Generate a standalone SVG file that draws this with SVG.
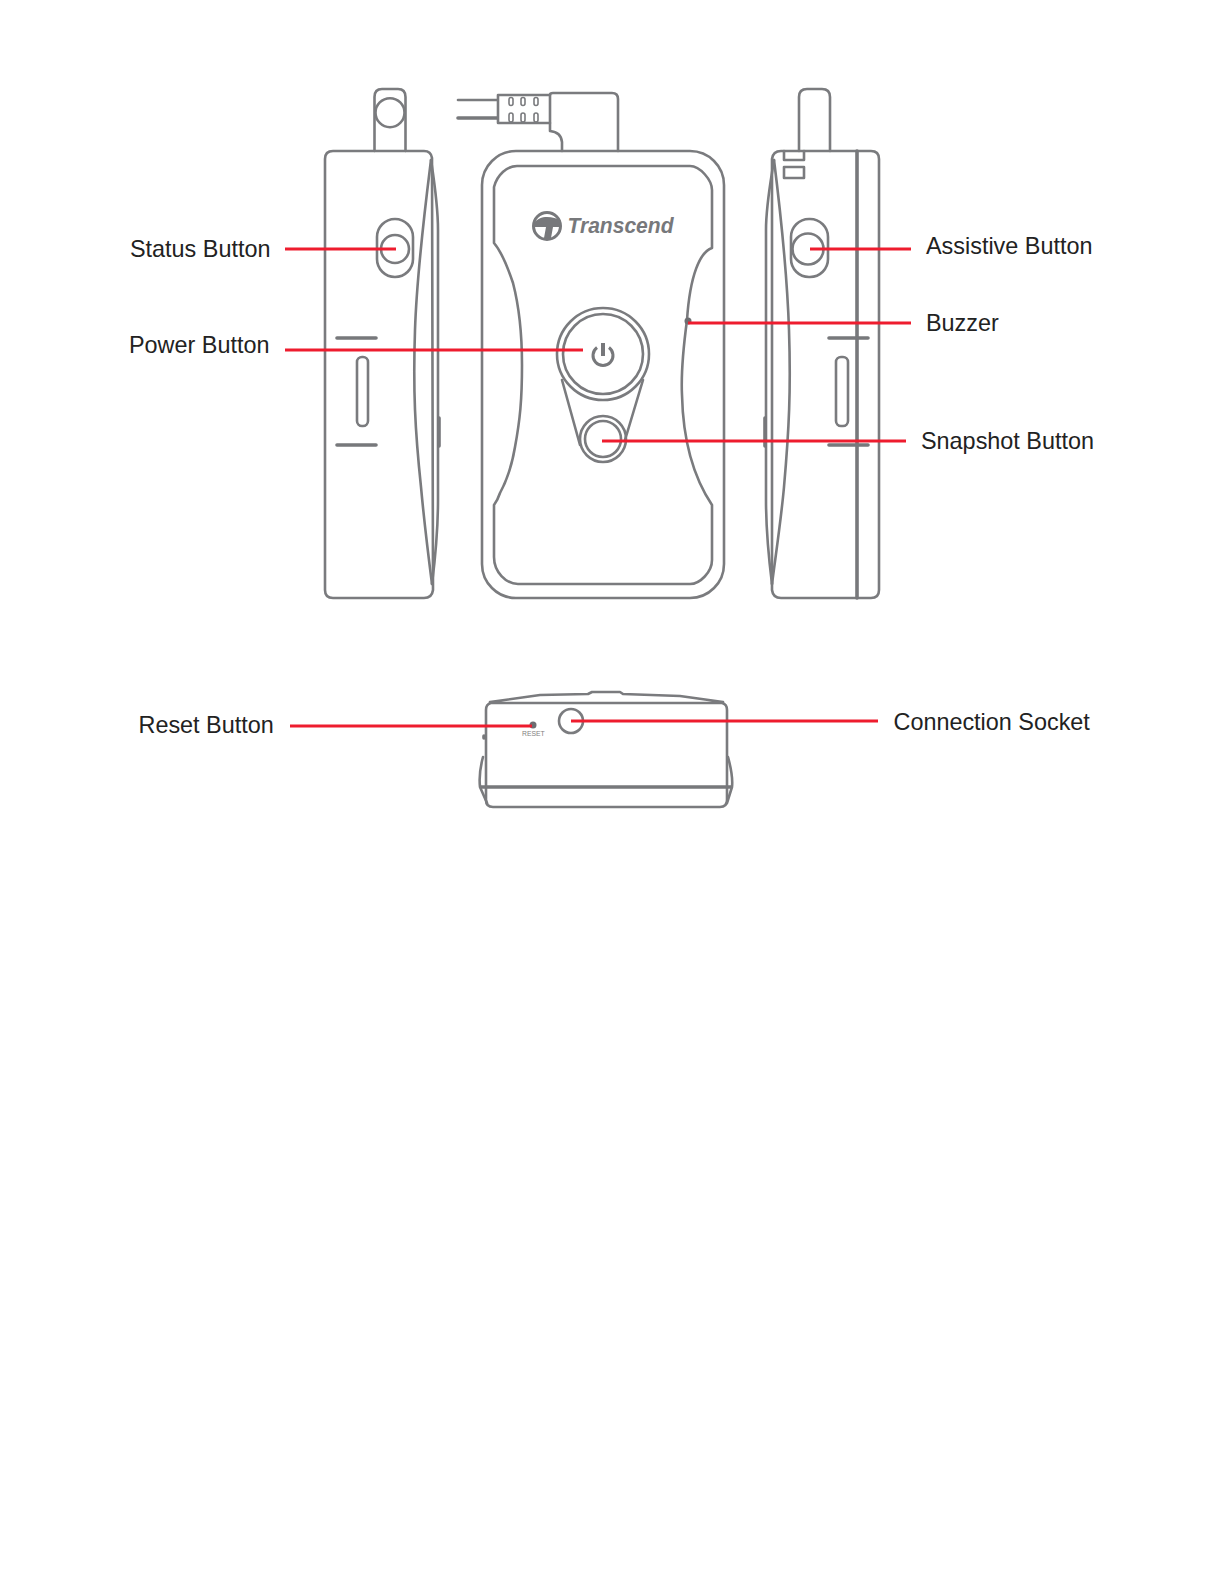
<svg xmlns="http://www.w3.org/2000/svg" width="1225" height="1585" viewBox="0 0 1225 1585">
<style>
.o{fill:none;stroke:#7a7b7e;stroke-width:2.6;stroke-linejoin:round;stroke-linecap:round}
.k{fill:none;stroke:#77787b;stroke-width:3.6;stroke-linecap:round}
.r{fill:none;stroke:#ee1c2e;stroke-width:2.8}
.l{font-family:"Liberation Sans",Arial,sans-serif;font-size:23.4px;fill:#222}
.s{fill:none;stroke:#7a7b7e;stroke-width:1.6}
</style>
<rect width="1225" height="1585" fill="#fff"/>
<g id="left-view">
<path class="o" d="M374.500 151V97Q374.500 89 382 89H398Q405.500 89 405.500 97V151"/>
<circle class="o" cx="390" cy="112.700" r="14.500"/>
<path class="o" d="M333 151H424Q431 151 432 158L433 590Q432 598 424 598H333Q325 598 325 590V159Q325 151 333 151Z"/>
<path class="o" d="M431 160C426 200 417 270 415 330C413 390 415 430 421 487C424 520 428 553 432 584"/>
<path class="o" d="M431 160C434 180 438 205 438 230V500C438 530 435 560 432 584"/>
<rect class="o" x="377" y="219" width="36" height="58" rx="18"/>
<circle class="o" cx="395" cy="249" r="14"/>
<rect class="o" x="357" y="357" width="11" height="69" rx="5"/>
<path class="k" d="M337 338H376M337 445H376"/>
<path class="k" d="M439 418V446"/>
</g>
<g id="connector">
<path class="o" d="M458 100H497"/>
<path class="k" d="M458 118H497"/>
<rect class="o" x="498" y="95" width="52" height="28"/>
<rect class="s" x="509" y="97.500" width="4" height="8" rx="2"/>
<rect class="s" x="521" y="97.500" width="4" height="8" rx="2"/>
<rect class="s" x="534" y="97.500" width="4" height="8" rx="2"/>
<rect class="s" x="509" y="113" width="4" height="9" rx="2"/>
<rect class="s" x="521" y="113" width="4" height="9" rx="2"/>
<rect class="s" x="534" y="113" width="4" height="9" rx="2"/>
<path class="o" d="M550 95Q550 93 553 93H612Q618 93 618 99V151M550 123V131Q561 132 562 142V151"/>
</g>
<g id="front-view">
<rect class="o" x="482" y="151" width="242" height="447" rx="34"/>
<path class="o" d="M517 166H690C700 166 712 180 712 190V248C700 252 690 275 687 320C683 350 681 375 682 395C683 440 692 475 712 505V560C712 572 700 584 690 584H518C506 584 494 572 494 557V505C497 501 498 499 500 493C507 480 512 465 515 447C520 420 522 400 522 365C522 340 520 310 513 283C507 265 500 250 494 243V187C497 175 507 166 517 166Z"/>
<circle class="o" cx="603" cy="354" r="46"/>
<circle class="o" cx="603" cy="354" r="40"/>
<path class="o" d="M562 380 580 445M643 380 625 440"/>
<circle class="o" cx="603" cy="439" r="23"/>
<circle class="o" cx="603" cy="439" r="18"/>
<path d="M597 347.500a10 10 0 1 0 12 0" fill="none" stroke="#77787b" stroke-width="3"/>
<path d="M603 343V356" fill="none" stroke="#77787b" stroke-width="4"/>
<circle cx="688" cy="321" r="3.500" fill="#6d6e71"/>
<circle cx="547" cy="226" r="13.500" fill="none" stroke="#77787b" stroke-width="3"/>
<path d="M533 225C537 218 542 217 547 217C552 217 557 218 561 221L559 227H553L551 238H544L546 227H533Z" fill="#77787b"/>
<text x="567.500" y="233" font-family="'Liberation Sans',Arial,sans-serif" font-size="22" font-weight="700" font-style="italic" fill="#77787b" textLength="106" lengthAdjust="spacingAndGlyphs">Transcend</text>
</g>
<g id="right-view">
<path class="o" d="M799 151V97Q799 89 807 89H822Q830 89 830 97V151"/>
<path class="o" d="M781 151H871Q879 151 879 159V590Q879 598 871 598H781Q773 598 772 590V159Q773 151 781 151Z"/>
<path class="k" d="M857 151V598"/>
<rect class="o" x="784" y="167" width="20" height="11" stroke-width="3"/>
<path class="o" d="M784 151V160H804V151" stroke-width="3"/>
<path class="o" d="M774 160C779 200 787 270 789 330C791 390 789 430 784 487C781 520 776 553 772 584"/>
<path class="o" d="M774 160C771 180 766 205 766 230V500C766 530 769 560 772 584"/>
<rect class="o" x="791" y="219" width="37" height="58" rx="18"/>
<circle class="o" cx="808" cy="249" r="15.500"/>
<rect class="o" x="836" y="357" width="12" height="69" rx="5"/>
<path class="k" d="M829 338H868M829 445H868"/>
<path class="k" d="M765 418V446"/>
</g>
<g id="bottom-view">
<path class="o" d="M491 703Q486 704 486 710V800Q486 807 493 807H720Q727 807 727 800V710Q727 704 722 703ZM490 702 540 695 588 694 592 692H620L623 694 680 696 723 702"/>
<path class="k" d="M481 787H731"/>
<path class="o" d="M483 757C480 768 479 778 480 787L487 803M728 757C731 768 733 778 732 787L727 803"/>
<circle cx="533" cy="725" r="3.500" fill="#6d6e71"/>
<circle class="o" cx="571" cy="721" r="12" stroke-width="3"/>
<path class="k" d="M484 736V738"/>
<text x="522" y="736" font-family="'Liberation Sans',Arial,sans-serif" font-size="6.800" fill="#808080">RESET</text>
</g>
<g id="connectors">
<path class="r" d="M285 249H396M285 350H583M602 441H906M688 323H911M810 249H911M571 721H878"/>
<path class="r" d="M290 726H532" stroke-width="4"/>
</g>
<g id="labels">
<text class="l" x="130" y="257">Status Button</text>
<text class="l" x="129" y="353">Power Button</text>
<text class="l" x="926" y="254">Assistive Button</text>
<text class="l" x="926" y="331">Buzzer</text>
<text class="l" x="921" y="449">Snapshot Button</text>
<text class="l" x="138.500" y="733">Reset Button</text>
<text class="l" x="893.500" y="730">Connection Socket</text>
</g>
</svg>
